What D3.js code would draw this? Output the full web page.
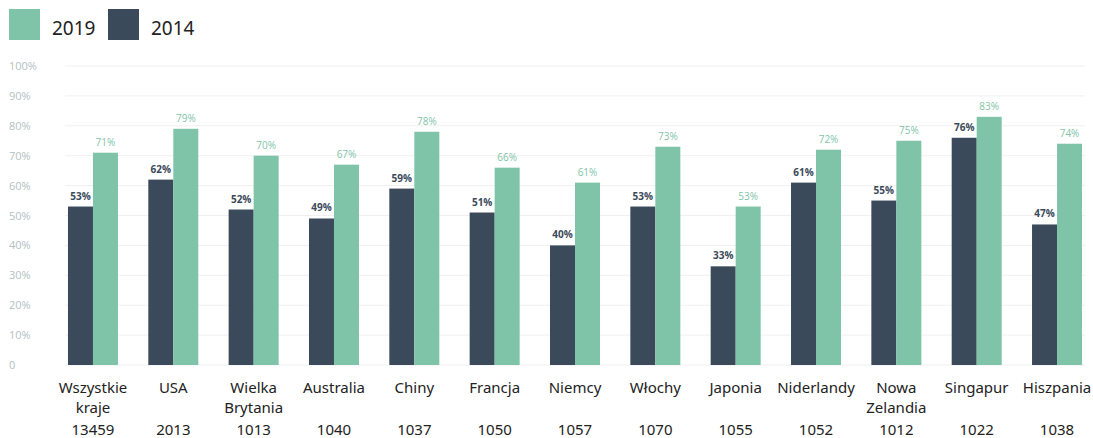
<!DOCTYPE html>
<html>
<head>
<meta charset="utf-8">
<script src="https://cdnjs.cloudflare.com/ajax/libs/d3/7.8.5/d3.min.js"></script>
<style>
   body { margin: 0; background: #fff; }
   svg { display: block; }
</style>
</head>
<body>
<svg id="chart" width="1093" height="438"></svg>
<script>
// data
const countries = [
   ['Wszystkie', 'kraje'], ['USA'], ['Wielka', 'Brytania'], ['Australia'], ['Chiny'],
   ['Francja'], ['Niemcy'], ['Włochy'], ['Japonia'], ['Niderlandy'],
   ['Nowa', 'Zelandia'], ['Singapur'], ['Hiszpania']
];
const sampleSizes = [13459, 2013, 1013, 1040, 1037, 1050, 1057, 1070, 1055, 1052, 1012, 1022, 1038];
const values2014 = [53, 62, 52, 49, 59, 51, 40, 53, 33, 61, 55, 76, 47];
const values2019 = [71, 79, 70, 67, 78, 66, 61, 73, 53, 72, 75, 83, 74];
const yTicks = [0, 10, 20, 30, 40, 50, 60, 70, 80, 90, 100];
const seriesNames = ['2019', '2014'];

const green = '#7fc4a9';
const dark = '#3b4a5a';

const svg = d3.select('#chart');

const x = d3.scaleBand()
   .domain(d3.range(countries.length))
   .range([52.8, 1097.2])
   .padding(0);

const inner = d3.scaleBand()
   .domain(['2014', '2019'])
   .range([x.bandwidth() / 2 - 25, x.bandwidth() / 2 + 25])
   .padding(0);

const y = d3.scaleLinear()
   .domain([0, 100])
   .range([365, 66]);

// grid
svg.append('g')
   .selectAll('line')
   .data(yTicks)
   .enter()
   .append('line')
      .attr('x1', 65)
      .attr('x2', 1085)
      .attr('y1', d => y(d))
      .attr('y2', d => y(d))
      .attr('stroke', '#f0f0f0')
      .attr('stroke-width', 1);

// y axis labels
svg.append('g')
   .selectAll('text')
   .data(yTicks)
   .enter()
   .append('text')
      .text(d => d == 0 ? '0' : d + '%')
      .attr('x', 9)
      .attr('y', d => y(d) + 4)
      .style('font-family', 'Open Sans, sans-serif')
      .style('font-size', '11px')
      .style('fill', '#b3bfc3');

const groups = svg.append('g')
   .selectAll('g')
   .data(countries)
   .enter()
   .append('g')
      .attr('transform', (d, i) => `translate(${x(i)},0)`);

groups.append('rect')
   .attr('x', inner('2014'))
   .attr('width', inner.bandwidth())
   .attr('y', (d, i) => y(values2014[i]))
   .attr('height', (d, i) => y(0) - y(values2014[i]))
   .style('fill', dark);

groups.append('rect')
   .attr('x', inner('2019'))
   .attr('width', inner.bandwidth())
   .attr('y', (d, i) => y(values2019[i]))
   .attr('height', (d, i) => y(0) - y(values2019[i]))
   .style('fill', green);

groups.append('text')
   .text((d, i) => values2014[i] + '%')
   .attr('x', inner('2014') + inner.bandwidth() / 2)
   .attr('y', (d, i) => y(values2014[i]) - 7)
   .style('text-anchor', 'middle')
   .style('font-family', 'Open Sans, sans-serif')
   .style('font-size', '10px')
   .style('font-weight', 'bold')
   .style('fill', dark);

groups.append('text')
   .text((d, i) => values2019[i] + '%')
   .attr('x', inner('2019') + inner.bandwidth() / 2)
   .attr('y', (d, i) => y(values2019[i]) - 7)
   .style('text-anchor', 'middle')
   .style('font-family', 'Open Sans, sans-serif')
   .style('font-size', '10px')
   .style('fill', green);

// category labels + sample sizes
const labels = groups.append('text')
   .attr('x', x.bandwidth() / 2)
   .style('text-anchor', 'middle')
   .style('font-family', 'Noto Sans, sans-serif')
   .style('font-size', '15px')
   .style('fill', '#222');

labels.selectAll('tspan')
   .data(d => d)
   .enter()
   .append('tspan')
      .attr('x', x.bandwidth() / 2)
      .attr('y', (d, i) => 393 + i * 20)
      .text(d => d);

groups.append('text')
   .text((d, i) => sampleSizes[i])
   .attr('x', x.bandwidth() / 2)
   .attr('y', 435)
   .style('text-anchor', 'middle')
   .style('font-family', 'Noto Sans, sans-serif')
   .style('font-size', '15px')
   .style('fill', '#222');

// legend
const legend = svg.append('g')
   .selectAll('g')
   .data(seriesNames)
   .enter()
   .append('g')
      .attr('transform', (d, i) => `translate(${9 + i * 99},9)`);

legend.append('rect')
   .attr('width', 31)
   .attr('height', 31)
   .style('fill', d => d == '2019' ? green : dark);

legend.append('text')
   .text(d => d)
   .attr('x', 43)
   .attr('y', 26)
   .style('font-family', 'Noto Sans, sans-serif')
   .style('font-size', '19px')
   .style('fill', '#222');
</script>
</body>
</html>
